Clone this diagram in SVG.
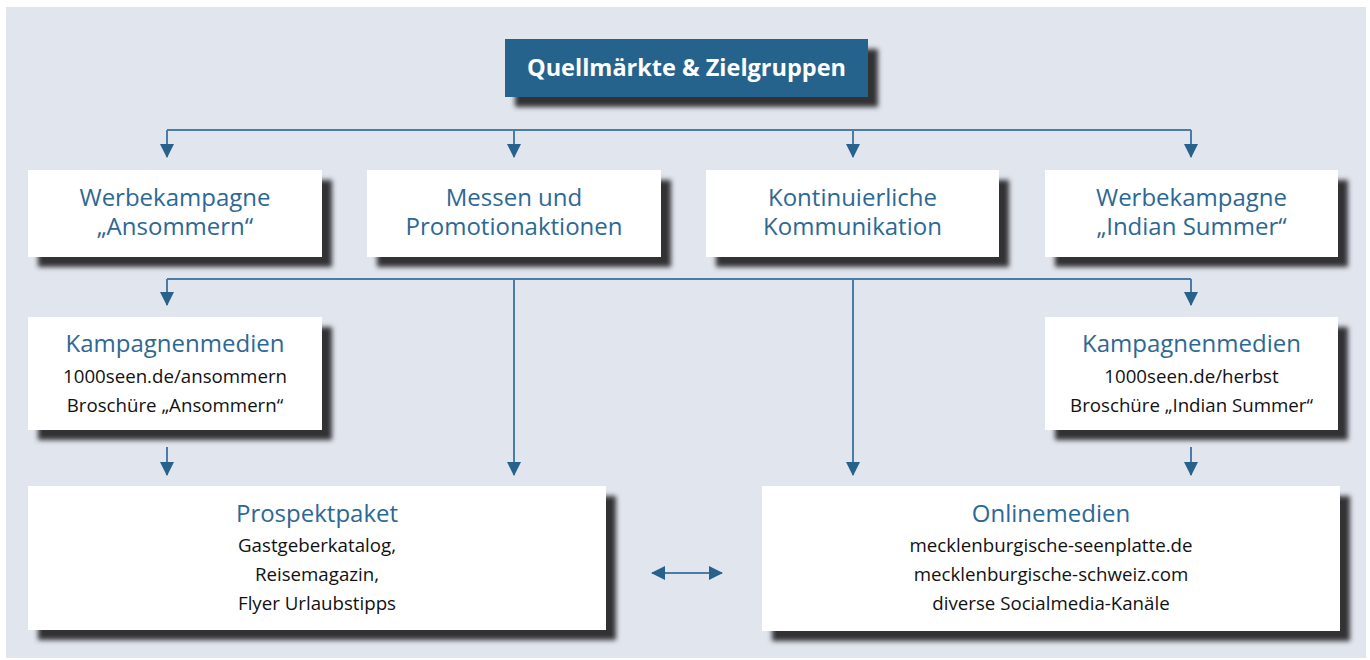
<svg xmlns="http://www.w3.org/2000/svg" width="1370" height="660" viewBox="0 0 1370 660">
<defs>
<filter id="sh" x="-10%" y="-20%" width="130%" height="150%">
<feGaussianBlur in="SourceAlpha" stdDeviation="2.8"/>
<feOffset dx="10" dy="10" result="b"/>
<feFlood flood-color="#333336"/>
<feComposite in2="b" operator="in" result="s"/>
<feMerge><feMergeNode in="s"/><feMergeNode in="SourceGraphic"/></feMerge>
</filter>
<marker id="ah" viewBox="0 0 14 14" markerWidth="14" markerHeight="14" refX="13" refY="7" orient="auto" markerUnits="userSpaceOnUse">
<path d="M0,0 L14,7 L0,14 Z" fill="#27628c"/>
</marker>
<marker id="as" viewBox="0 0 14 14" markerWidth="14" markerHeight="14" refX="1" refY="7" orient="auto" markerUnits="userSpaceOnUse">
<path d="M14,0 L0,7 L14,14 Z" fill="#27628c"/>
</marker>
</defs>
<style>
.box{fill:#ffffff;filter:url(#sh)}
.hd{font-family:"Open Sans","Liberation Sans",sans-serif;font-size:24px;fill:#2d6894;text-anchor:middle}
.tx{font-family:"Open Sans","Liberation Sans",sans-serif;font-size:18.7px;fill:#111111;text-anchor:middle}
.ln{fill:none;stroke:#4a7ca6;stroke-width:2}
</style>
<rect x="0" y="0" width="1370" height="660" fill="#ffffff"/>
<rect x="6" y="7" width="1360" height="651" fill="#e1e5ed"/>

<g id="connectors">
<path class="ln" d="M167,130 H1191"/>
<path class="ln" d="M167,130 V157" marker-end="url(#ah)"/>
<path class="ln" d="M514,130 V157" marker-end="url(#ah)"/>
<path class="ln" d="M853,130 V157" marker-end="url(#ah)"/>
<path class="ln" d="M1191,130 V157" marker-end="url(#ah)"/>
<path class="ln" d="M167,279 H1191"/>
<path class="ln" d="M167,279 V305" marker-end="url(#ah)"/>
<path class="ln" d="M1191,279 V305" marker-end="url(#ah)"/>
<path class="ln" d="M514,279 V475" marker-end="url(#ah)"/>
<path class="ln" d="M853,279 V475" marker-end="url(#ah)"/>
<path class="ln" d="M167,447 V475" marker-end="url(#ah)"/>
<path class="ln" d="M1191,447 V475" marker-end="url(#ah)"/>
<path class="ln" d="M652,573 H722" marker-start="url(#as)" marker-end="url(#ah)"/>
</g>

<g id="quellmaerkte">
<rect x="505" y="39" width="363" height="58" fill="#27638c" filter="url(#sh)"/>
<text x="686.5" y="76" font-family="'Open Sans','Liberation Sans',sans-serif" font-size="23.5" font-weight="bold" fill="#ffffff" text-anchor="middle">Quellmärkte &amp; Zielgruppen</text>
</g>

<g id="ansommern">
<rect class="box" x="28" y="170" width="294" height="87"/>
<text class="hd" x="175" y="206">Werbekampagne</text>
<text class="hd" x="175" y="235">„Ansommern“</text>
</g>
<g id="messen">
<rect class="box" x="367" y="170" width="294" height="87"/>
<text class="hd" x="514" y="206">Messen und</text>
<text class="hd" x="514" y="235">Promotionaktionen</text>
</g>
<g id="kommunikation">
<rect class="box" x="706" y="170" width="293" height="87"/>
<text class="hd" x="852.5" y="206">Kontinuierliche</text>
<text class="hd" x="852.5" y="235">Kommunikation</text>
</g>
<g id="indian">
<rect class="box" x="1045" y="170" width="293" height="87"/>
<text class="hd" x="1191.5" y="206">Werbekampagne</text>
<text class="hd" x="1191.5" y="235">„Indian Summer“</text>
</g>

<g id="kampagnenmedien-links">
<rect class="box" x="28" y="317" width="294" height="113"/>
<text class="hd" x="175" y="352">Kampagnenmedien</text>
<text class="tx" x="175" y="383">1000seen.de/ansommern</text>
<text class="tx" x="175" y="412">Broschüre „Ansommern“</text>
</g>
<g id="kampagnenmedien-rechts">
<rect class="box" x="1045" y="317" width="293" height="113"/>
<text class="hd" x="1191.5" y="352">Kampagnenmedien</text>
<text class="tx" x="1191.5" y="383">1000seen.de/herbst</text>
<text class="tx" x="1191.5" y="412">Broschüre „Indian Summer“</text>
</g>

<g id="prospektpaket">
<rect class="box" x="28" y="486" width="578" height="144"/>
<text class="hd" x="317" y="522">Prospektpaket</text>
<text class="tx" x="317" y="552">Gastgeberkatalog,</text>
<text class="tx" x="317" y="581">Reisemagazin,</text>
<text class="tx" x="317" y="610">Flyer Urlaubstipps</text>
</g>
<g id="onlinemedien">
<rect class="box" x="762" y="486" width="578" height="145"/>
<text class="hd" x="1051" y="522">Onlinemedien</text>
<text class="tx" x="1051" y="552">mecklenburgische-seenplatte.de</text>
<text class="tx" x="1051" y="581">mecklenburgische-schweiz.com</text>
<text class="tx" x="1051" y="610">diverse Socialmedia-Kanäle</text>
</g>
</svg>
